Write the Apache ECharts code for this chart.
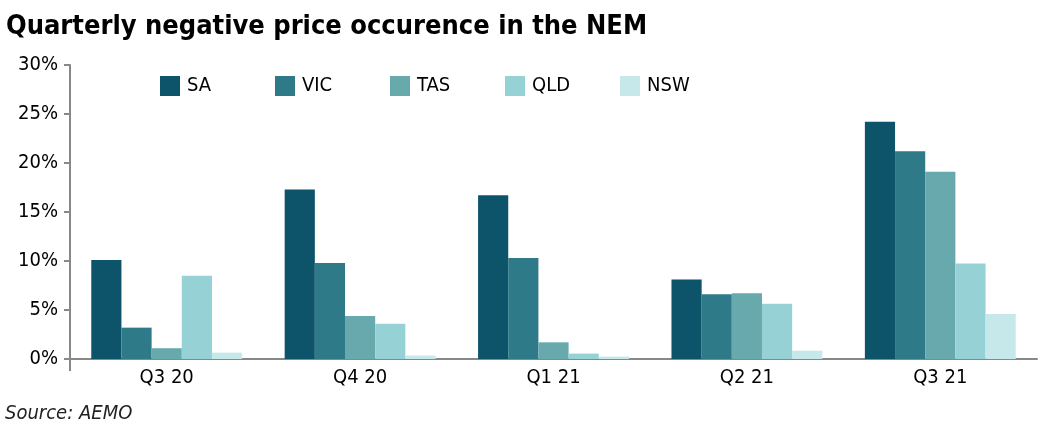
<!DOCTYPE html>
<html>
<head>
<meta charset="utf-8">
<script src="https://cdn.jsdelivr.net/npm/echarts@6/dist/echarts.min.js"></script>
<style>html,body{margin:0;padding:0;background:#fff}#c{width:1053px;height:432px}</style>
</head>
<body>
<div id="c"></div>
<script>
var categories = ['Q3 20', 'Q4 20', 'Q1 21', 'Q2 21', 'Q3 21'];
var seriesNames = ['SA', 'VIC', 'TAS', 'QLD', 'NSW'];
var SA  = [10.1, 17.3, 16.7, 8.1, 24.2];
var VIC = [3.2, 9.8, 10.3, 6.6, 21.2];
var TAS = [1.1, 4.4, 1.7, 6.7, 19.1];
var QLD = [8.5, 3.6, 0.55, 5.65, 9.75];
var NSW = [0.65, 0.35, 0.25, 0.85, 4.6];
var yTicks = [0, 5, 10, 15, 20, 25, 30];
var colors = ['#0d546b', '#2e7a89', '#68a9ae', '#96d1d5', '#c7e8eb'];

var FONT = "'DejaVu Sans Condensed', 'DejaVu Sans', sans-serif";
var values = [SA, VIC, TAS, QLD, NSW];
var chart = echarts.init(document.getElementById('c'), null, {renderer: 'canvas'});
chart.setOption({
  animation: false,
  color: colors,
  title: {
    text: 'Quarterly negative price occurence in the NEM',
    left: 1, top: 8,
    textStyle: {fontFamily: FONT, fontWeight: 'bold', fontSize: 27, color: '#000'}
  },
  graphic: [{
    type: 'text', left: 5, top: 404,
    style: {text: 'Source: AEMO', fontFamily: FONT, fontStyle: 'italic', fontSize: 20, fill: '#222'}
  }, {
    type: 'line', shape: {x1: 70, y1: 359, x2: 70, y2: 371},
    style: {stroke: '#888', lineWidth: 2}
  }],
  legend: seriesNames.map(function (n, i) {
    return {
      data: [n], left: 155 + i * 115, top: 71,
      itemWidth: 20, itemHeight: 20, itemGap: 0,
      icon: 'rect',
      textStyle: {fontFamily: FONT, fontSize: 20, color: '#000', padding: [0, 0, 0, 2]}
    };
  }),
  grid: {left: 70, right: 16, top: 65, bottom: 73},
  xAxis: {
    type: 'category', data: categories,
    axisLine: {lineStyle: {color: '#888', width: 2}},
    axisTick: {show: false},
    axisLabel: {fontFamily: FONT, fontSize: 20, color: '#000', margin: 9}
  },
  yAxis: {
    type: 'value', min: 0, max: 30, interval: 5,
    axisLine: {show: true, lineStyle: {color: '#888', width: 2}},
    axisTick: {show: true, length: 6, lineStyle: {color: '#888', width: 2}},
    splitLine: {show: false},
    axisLabel: {fontFamily: FONT, fontSize: 20, color: '#000', margin: 12, formatter: '{value}%'}
  },
  series: seriesNames.map(function (n, i) {
    return {name: n, type: 'bar', data: values[i], barGap: '0%', barCategoryGap: '22%'};
  })
});
</script>
</body>
</html>
